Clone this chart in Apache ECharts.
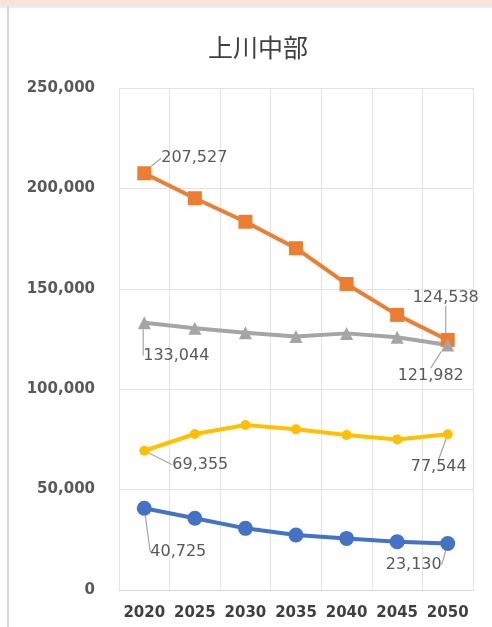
<!DOCTYPE html>
<html><head><meta charset="utf-8">
<script src="https://cdn.jsdelivr.net/npm/echarts@6/dist/echarts.min.js"></script>
<style>html,body{margin:0;padding:0;background:#fff}#c{width:492px;height:627px}</style>
</head><body><div id="c"></div>
<script>
const title = '上川中部';
const years = ['2020','2025','2030','2035','2040','2045','2050'];
const seriesOrange = [207527, 195100, 183400, 170200, 152400, 137000, 124538];
const seriesGray = [133044, 130300, 128100, 126200, 127800, 125900, 121982];
const seriesYellow = [69355, 77700, 82200, 80000, 77200, 75000, 77544];
const seriesBlue = [40725, 35700, 30700, 27400, 25700, 24000, 23130];
const yTicks = [0, 50000, 100000, 150000, 200000, 250000];

const fmt = v => v.toLocaleString('en-US');
const labelOffsets = {
  0: {0: [50, -15], 6: [-2, -42]},
  1: {0: [32, 33], 6: [-17, 31]},
  2: {0: [56, 14], 6: [-9, 33]},
  3: {0: [34, 44], 6: [-34, 21]}
};
function mkData(arr) {
  return arr.map((v, i) => ({
    value: v,
    label: {show: i === 0 || i === arr.length - 1}
  }));
}
function mkSeries(name, arr, color, symbol, size, width) {
  return {
    name, type: 'line', data: mkData(arr),
    symbol, symbolSize: size,
    lineStyle: {color, width},
    itemStyle: {color},
    label: {position: 'inside', formatter: p => fmt(p.value),
      color: '#595959', fontSize: 16, fontFamily: 'DejaVu Sans'},
    labelLine: {show: true, lineStyle: {color: '#a6a6a6', width: 1.2}},
    emphasis: {disabled: true},
    animation: false
  };
}
const chart = echarts.init(document.getElementById('c'));
chart.setOption({
  backgroundColor: '#fff',
  title: {text: title, left: 253, top: 30, textAlign: 'center',
    textStyle: {fontFamily: 'Noto Sans CJK JP', fontSize: 25, fontWeight: 'normal', color: '#404040'}},
  graphic: [
    {type: 'rect', left: 0, top: 0, shape: {width: 492, height: 6}, style: {fill: '#fbe4d5'}},
    {type: 'rect', left: 0, top: 6, shape: {width: 492, height: 2}, style: {fill: '#f0ece9'}},
    {type: 'rect', left: 7, top: 6, shape: {width: 2, height: 621}, style: {fill: '#d9d9d9'}}
  ],
  grid: {left: 119, right: 19, top: 88, bottom: 37, containLabel: false},
  xAxis: {
    type: 'category', data: years, boundaryGap: true,
    axisLine: {show: true, lineStyle: {color: '#d9d9d9'}},
    axisTick: {show: false},
    splitLine: {show: true, interval: 0, lineStyle: {color: '#e3e3e3'}},
    axisLabel: {interval: 0, color: '#404040', fontSize: 15, fontWeight: 'bold', fontFamily: 'DejaVu Sans', margin: 16}
  },
  yAxis: {
    type: 'value', min: yTicks[0], max: yTicks[yTicks.length - 1], interval: 50000,
    axisLine: {show: false}, axisTick: {show: false},
    splitLine: {lineStyle: {color: '#e3e3e3'}},
    axisLabel: {color: '#595959', fontSize: 15, fontWeight: 'bold', fontFamily: 'DejaVu Sans', margin: 24,
      formatter: v => fmt(v)}
  },
  labelLayout: p => {
    const o = labelOffsets[p.seriesIndex] && labelOffsets[p.seriesIndex][p.dataIndex];
    return o ? {dx: o[0], dy: o[1]} : {};
  },
  series: [
    mkSeries('orange', seriesOrange, '#ed7d31', 'rect', 14, 4),
    mkSeries('gray', seriesGray, '#a5a5a5', 'triangle', 13, 4),
    mkSeries('yellow', seriesYellow, '#ffc000', 'circle', 10, 4),
    mkSeries('blue', seriesBlue, '#4472c4', 'circle', 15, 4)
  ]
});
</script></body></html>
